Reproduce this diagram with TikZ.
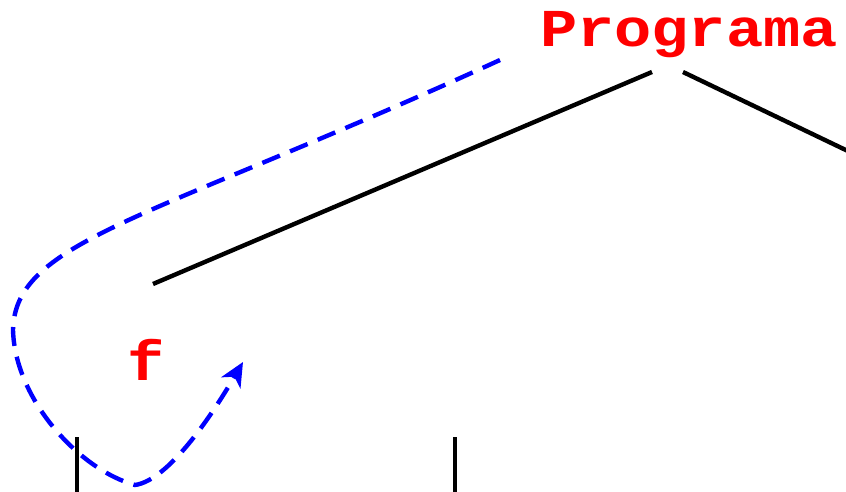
\documentclass[tikz,border=0pt]{standalone}
\usepackage{fontspec}
\setmonofont{Liberation Mono}
\usepackage{xcolor}
\usetikzlibrary{positioning,arrows.meta,calc}
\tikzset{
codelabel/.style={
text=red,
font=\ttfamily\bfseries\fontsize{62}{62}\selectfont,
inner sep=0pt,
anchor=base
},
treeedge/.style={
draw=black,
line width=4.4pt
},
callarrow/.style={
draw=blue,
line width=4.4pt,
dash pattern=on 19pt off 11pt,
-{Stealth[length=24pt,width=22pt,inset=7pt]}
}
}
\begin{document}
\begin{tikzpicture}[x=1pt,y=-1pt]
\useasboundingbox (0,0) rectangle (846,492);
\node[codelabel](prog) at (689,47){\scalebox{1}[0.86]{Programa}};
\node[codelabel](f) at (146,380){\scalebox{1}[0.9]{f}};

\coordinate (progL) at (652,72);
\coordinate (progR) at (683,72);
\coordinate (childL) at (153,284);
\coordinate (childR) at (900,176);
\coordinate (fL) at (77,437);
\coordinate (fLend) at (77,500);
\coordinate (fR) at (455,437);
\coordinate (fRend) at (455,500);

\foreach \x/\y in {progL/childL,progR/childR,fL/fLend,fR/fRend}
\draw[treeedge](\x)--(\y);

\coordinate (callstart) at (500,60);
\coordinate (calltip) at (243,362);
\draw[callarrow](callstart) .. controls (150,220) and (15,240) .. (13,330)
.. controls (15,400) and (80,470) .. (135,485)
.. controls (170,480) and (215,410) .. (calltip);
\end{tikzpicture}
\end{document}
